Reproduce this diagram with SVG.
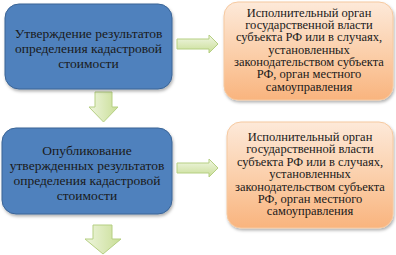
<svg xmlns="http://www.w3.org/2000/svg" width="396" height="255" viewBox="0 0 396 255">
<defs>
<linearGradient id="og" x1="0" y1="0" x2="0" y2="1">
<stop offset="0" stop-color="#fde9d9"/>
<stop offset="0.5" stop-color="#fbd0ac"/>
<stop offset="1" stop-color="#f9b47e"/>
</linearGradient>
<linearGradient id="gg" x1="0" y1="0" x2="0" y2="1">
<stop offset="0" stop-color="#f2f7e6"/>
<stop offset="1" stop-color="#c9de96"/>
</linearGradient>
<linearGradient id="gv" x1="0" y1="0" x2="1" y2="0">
<stop offset="0" stop-color="#eef5dd"/>
<stop offset="1" stop-color="#c9de96"/>
</linearGradient>
<filter id="sh" x="-10%" y="-10%" width="125%" height="130%">
<feDropShadow dx="1" dy="2" stdDeviation="1.5" flood-color="#000" flood-opacity="0.3"/>
</filter>
</defs>
<g id="connectors" stroke="#b5cf82" stroke-width="1">
<polygon fill="url(#gg)" points="177,39 209,39 209,35 218,44 209,53 209,49 177,49"/>
<polygon fill="url(#gv)" points="95,92 112,92 112,107 118,107 103.5,122 89,107 95,107"/>
<polygon fill="url(#gg)" points="177,163 209,163 209,159 218,168 209,177 209,173 177,173"/>
<polygon fill="url(#gv)" points="93,225 112,225 112,239 121,239 103,254 85,239 93,239"/>
</g>
<g id="n1">
<rect fill="#4f81bd" stroke="#3a6496" x="5" y="4" width="167" height="85" rx="14" filter="url(#sh)"/>
<text font-family="Liberation Serif" font-size="13.5" fill="#1a1a1a" text-anchor="middle" x="88.5" y="38">Утверждение результатов</text>
<text font-family="Liberation Serif" font-size="13.5" fill="#1a1a1a" text-anchor="middle" x="88.5" y="53">определения кадастровой</text>
<text font-family="Liberation Serif" font-size="13.5" fill="#1a1a1a" text-anchor="middle" x="88.5" y="68">стоимости</text>
</g>
<g id="n2">
<rect fill="url(#og)" stroke="#f6c9a0" x="224" y="2" width="169" height="98" rx="14" filter="url(#sh)"/>
<text font-family="Liberation Serif" font-size="12.5" fill="#1a1a1a" text-anchor="middle" x="309" y="17">Исполнительный орган</text>
<text font-family="Liberation Serif" font-size="12.5" fill="#1a1a1a" text-anchor="middle" x="309" y="29">государственной  власти</text>
<text font-family="Liberation Serif" font-size="12.5" fill="#1a1a1a" text-anchor="middle" x="309" y="41">субъекта РФ или  в случаях,</text>
<text font-family="Liberation Serif" font-size="12.5" fill="#1a1a1a" text-anchor="middle" x="309" y="54">установленных</text>
<text font-family="Liberation Serif" font-size="12.5" fill="#1a1a1a" text-anchor="middle" x="309" y="66">законодательством  субъекта</text>
<text font-family="Liberation Serif" font-size="12.5" fill="#1a1a1a" text-anchor="middle" x="309" y="78">РФ, орган  местного</text>
<text font-family="Liberation Serif" font-size="12.5" fill="#1a1a1a" text-anchor="middle" x="309" y="91">самоуправления</text>
</g>
<g id="n3">
<rect fill="#4f81bd" stroke="#3a6496" x="2" y="128" width="170" height="86" rx="14" filter="url(#sh)"/>
<text font-family="Liberation Serif" font-size="13.5" fill="#1a1a1a" text-anchor="middle" x="87" y="155">Опубликование</text>
<text font-family="Liberation Serif" font-size="13.5" fill="#1a1a1a" text-anchor="middle" x="87" y="170">утвержденных результатов</text>
<text font-family="Liberation Serif" font-size="13.5" fill="#1a1a1a" text-anchor="middle" x="87" y="185">определения кадастровой</text>
<text font-family="Liberation Serif" font-size="13.5" fill="#1a1a1a" text-anchor="middle" x="87" y="200">стоимости</text>
</g>
<g id="n4">
<rect fill="url(#og)" stroke="#f6c9a0" x="227" y="122" width="166" height="106" rx="14" filter="url(#sh)"/>
<text font-family="Liberation Serif" font-size="12.5" fill="#1a1a1a" text-anchor="middle" x="310" y="141">Исполнительный орган</text>
<text font-family="Liberation Serif" font-size="12.5" fill="#1a1a1a" text-anchor="middle" x="310" y="153">государственной власти</text>
<text font-family="Liberation Serif" font-size="12.5" fill="#1a1a1a" text-anchor="middle" x="310" y="166">субъекта РФ или в случаях,</text>
<text font-family="Liberation Serif" font-size="12.5" fill="#1a1a1a" text-anchor="middle" x="310" y="178">установленных</text>
<text font-family="Liberation Serif" font-size="12.5" fill="#1a1a1a" text-anchor="middle" x="310" y="191">законодательством субъекта</text>
<text font-family="Liberation Serif" font-size="12.5" fill="#1a1a1a" text-anchor="middle" x="310" y="203">РФ, орган местного</text>
<text font-family="Liberation Serif" font-size="12.5" fill="#1a1a1a" text-anchor="middle" x="310" y="215">самоуправления</text>
</g>
</svg>
